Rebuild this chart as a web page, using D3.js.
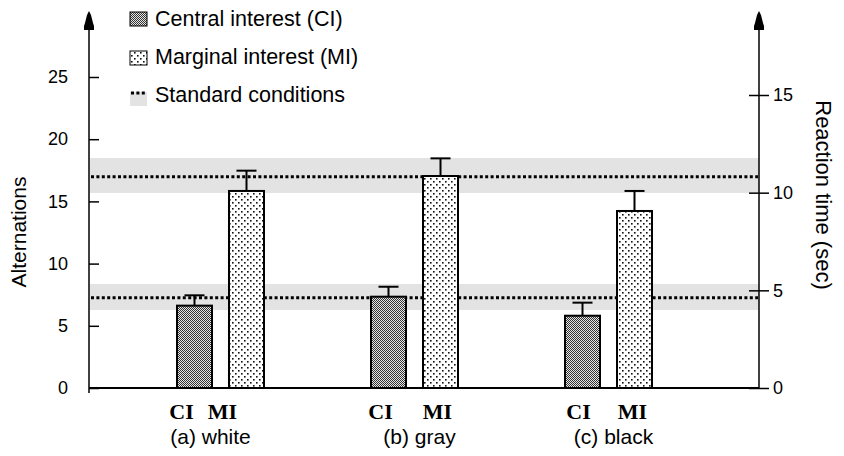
<!DOCTYPE html>
<html><head><meta charset="utf-8">
<script src="https://cdn.jsdelivr.net/npm/d3@7"></script>
<style>body{margin:0;background:#fff}svg{display:block}</style>
</head><body>
<svg id="c" width="844" height="456"></svg>
<script>
const groups = ["(a) white", "(b) gray", "(c) black"];
const conditions = ["CI", "MI"];
const ciValues = [6.62, 7.34, 5.81];
const miValues = [15.84, 17.04, 14.23];
const ciErrors = [0.83, 0.80, 1.05];
const miErrors = [1.63, 1.42, 1.61];
const standardMeans = [7.26, 16.99];
const standardLow = [6.27, 15.68];
const standardHigh = [8.36, 18.49];
const leftTicks = [0, 5, 10, 15, 20, 25];
const rightTicks = [0, 5, 10, 15];
const legendLabels = ["Central interest (CI)", "Marginal interest (MI)", "Standard conditions"];

// layout nudges for text labels (style only)
const condLabelShift = [[-13, -24], [-8, -3], [-4, -2]];
const groupLabelShift = [-10, 5, 5];

const FONT = "Liberation Sans, Arial, Helvetica, sans-serif";
const svg = d3.select("#c");
const axL = 89, axR = 759;
const yL = d3.scaleLinear().domain([0, 25]).range([388, 77]);
const yR = d3.scaleLinear().domain([0, 15]).range([388, 95]);
const x0 = d3.scaleBand().domain(groups).range([123.5, 705.5]);
const x1 = d3.scaleBand().domain(conditions).range([-43.5, 43.5]).paddingInner(0.327);

const defs = svg.append("defs");
const pCI = defs.append("pattern").attr("id", "pCI").attr("width", 2).attr("height", 2).attr("patternUnits", "userSpaceOnUse");
pCI.append("rect").attr("width", 2).attr("height", 2).attr("fill", "#e6e6e6");
pCI.append("rect").attr("width", 1).attr("height", 1).attr("fill", "#333");
pCI.append("rect").attr("x", 1).attr("y", 1).attr("width", 1).attr("height", 1).attr("fill", "#333");
const pMI = defs.append("pattern").attr("id", "pMI").attr("width", 6).attr("height", 6).attr("patternUnits", "userSpaceOnUse");
pMI.append("rect").attr("width", 6).attr("height", 6).attr("fill", "#fff");
pMI.append("rect").attr("x", 1).attr("y", 1).attr("width", 1.6).attr("height", 1.6).attr("fill", "#111");
pMI.append("rect").attr("x", 4).attr("y", 4).attr("width", 1.6).attr("height", 1.6).attr("fill", "#111");

// standard condition bands
standardMeans.forEach((m, i) => {
  svg.append("rect").attr("x", axL + 1).attr("width", axR - axL - 1)
    .attr("y", yL(standardHigh[i])).attr("height", yL(standardLow[i]) - yL(standardHigh[i]))
    .attr("fill", "#e3e3e3");
  svg.append("line").attr("x1", axL + 2).attr("x2", axR - 1)
    .attr("y1", yL(m)).attr("y2", yL(m))
    .attr("stroke", "#000").attr("stroke-width", 3).attr("stroke-dasharray", "3,2.4");
});

// bars
const data = groups.map((g, i) => [
  {g, gi: i, ci: 0, c: "CI", v: ciValues[i], e: ciErrors[i]},
  {g, gi: i, ci: 1, c: "MI", v: miValues[i], e: miErrors[i]}
]).flat();
const cx = d => x0(d.g) + x0.bandwidth() / 2 + x1(d.c);
svg.selectAll(".err").data(data).join("g").each(function(d) {
  const g = d3.select(this);
  const xc = cx(d) + x1.bandwidth() / 2;
  g.append("line").attr("x1", xc).attr("x2", xc).attr("y1", yL(d.v)).attr("y2", yL(d.v + d.e))
    .attr("stroke", "#000").attr("stroke-width", 2);
  g.append("line").attr("x1", xc - 10).attr("x2", xc + 10).attr("y1", yL(d.v + d.e)).attr("y2", yL(d.v + d.e))
    .attr("stroke", "#000").attr("stroke-width", 2);
});
svg.selectAll(".bar").data(data).join("rect")
  .attr("x", d => cx(d)).attr("width", x1.bandwidth())
  .attr("y", d => yL(d.v)).attr("height", d => yL(0) - yL(d.v))
  .attr("fill", d => d.c === "CI" ? "url(#pCI)" : "url(#pMI)")
  .attr("stroke", "#000").attr("stroke-width", 2);

// baseline
svg.append("line").attr("x1", axL).attr("x2", axR).attr("y1", yL(0)).attr("y2", yL(0)).attr("stroke", "#000").attr("stroke-width", 2);

// axes
const arrow = (x) => svg.append("path")
  .attr("d", `M${x},11 L${x+2},15 L${x+3},19 L${x+4},23 L${x+5},26 L${x+5},30 L${x-5},30 L${x-5},26 L${x-4},23 L${x-3},19 L${x-2},15 Z`)
  .attr("fill", "#000");
const gL = svg.append("g").attr("transform", `translate(${axL},0)`)
  .call(d3.axisLeft(yL).tickValues(leftTicks).tickSize(10).tickPadding(11));
gL.select(".domain").remove();
gL.selectAll(".tick line").attr("x2", 10).attr("stroke-width", 1.5);
gL.selectAll(".tick text").attr("font-family", FONT).attr("font-size", 18).attr("fill", "#000");
svg.append("line").attr("x1", axL).attr("x2", axL).attr("y1", 26).attr("y2", 393).attr("stroke", "#000").attr("stroke-width", 1.5);
arrow(axL);

const gR = svg.append("g").attr("transform", `translate(${axR},0)`)
  .call(d3.axisRight(yR).tickValues(rightTicks).tickSize(10).tickPadding(4));
gR.select(".domain").remove();
gR.selectAll(".tick line").attr("x2", 10).attr("x1", -10).attr("stroke-width", 1.5);
gR.selectAll(".tick text").attr("font-family", FONT).attr("font-size", 18).attr("fill", "#000");
svg.append("line").attr("x1", axR).attr("x2", axR).attr("y1", 26).attr("y2", 389).attr("stroke", "#000").attr("stroke-width", 1.5);
arrow(axR);

// axis titles
svg.append("text").attr("transform", `translate(26,${232}) rotate(-90)`).attr("text-anchor", "middle")
  .attr("font-family", FONT).attr("font-size", 21).text("Alternations");
svg.append("text").attr("transform", `translate(816,${195}) rotate(90)`).attr("text-anchor", "middle")
  .attr("font-family", FONT).attr("font-size", 22).text("Reaction time (sec)");

// category labels
svg.selectAll(".cl").data(data).join("text")
  .attr("x", d => cx(d) + x1.bandwidth() / 2 + condLabelShift[d.gi][d.ci]).attr("y", 419)
  .attr("text-anchor", "middle").attr("font-family", "Liberation Serif, Times New Roman, serif")
  .attr("font-weight", "bold").attr("font-size", 22).text(d => d.c);
svg.selectAll(".gl").data(groups).join("text")
  .attr("x", (d, i) => x0(d) + x0.bandwidth() / 2 + groupLabelShift[i]).attr("y", 444)
  .attr("text-anchor", "middle").attr("font-family", FONT)
  .attr("font-size", 21).text(d => d);

// legend
const lg = svg.append("g").attr("transform", "translate(130,0)");
lg.append("rect").attr("x", 0).attr("y", 12).attr("width", 17).attr("height", 14).attr("fill", "url(#pCI)").attr("stroke", "#000").attr("stroke-width", 1);
lg.append("rect").attr("x", 0).attr("y", 51).attr("width", 17).attr("height", 14).attr("fill", "url(#pMI)").attr("stroke", "#000").attr("stroke-width", 1);
lg.append("rect").attr("x", 0).attr("y", 92).attr("width", 17).attr("height", 14).attr("fill", "#e3e3e3");
lg.append("line").attr("x1", 1).attr("x2", 17).attr("y1", 93).attr("y2", 93).attr("stroke", "#000").attr("stroke-width", 3).attr("stroke-dasharray", "3,2.4");
lg.selectAll(".lt").data(legendLabels).join("text")
  .attr("x", 25).attr("y", (d, i) => 26 + i * 38)
  .attr("font-family", FONT).attr("font-size", 21.5).text(d => d);
</script>
</body></html>
